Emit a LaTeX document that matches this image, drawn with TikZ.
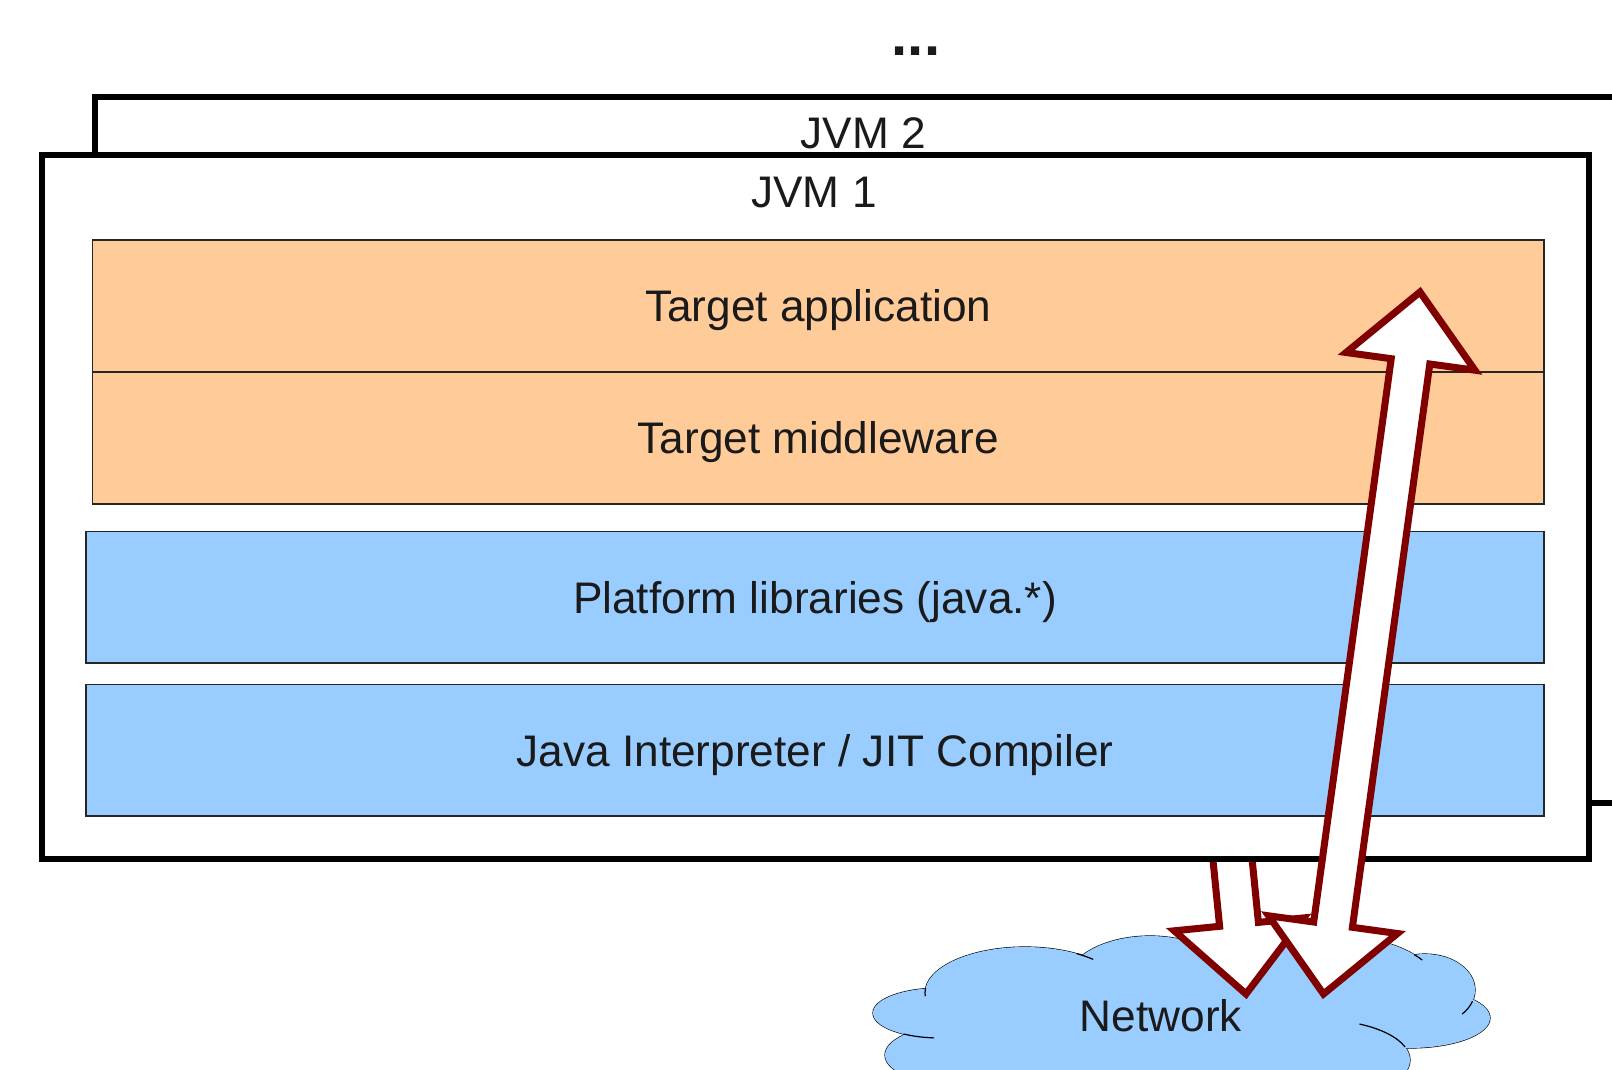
\documentclass[tikz,border=0pt]{standalone}
\usepackage{fontspec}
\setmainfont{Liberation Sans}
\definecolor{orangefill}{HTML}{FFCC99}
\definecolor{bluefill}{HTML}{99CCFF}
\definecolor{arrowred}{HTML}{800000}
\definecolor{textgray}{HTML}{1A1A1A}
\begin{document}
\begin{tikzpicture}[x=0.5pt,y=-0.5pt,
  jvmbox/.style={draw=black, line width=3.2pt, fill=white, inner sep=0pt},
  layer/.style={draw=black!85, line width=0.6pt, inner sep=0pt,
    font=\fontsize{22.1pt}{26pt}\selectfont, text=textgray,
    text height=15.8pt, text depth=0pt},
  orangelayer/.style={layer, fill=orangefill, minimum width=725.75pt, minimum height=66pt},
  bluelayer/.style={layer, fill=bluefill, minimum width=729pt, minimum height=65.75pt},
  lbl/.style={inner sep=0pt, font=\fontsize{22.1pt}{26pt}\selectfont, text=textgray,
    text height=15.8pt, text depth=0pt},
  blockarrow/.style={draw=arrowred, line width=3.5pt, fill=white, line join=miter},
  cloudline/.style={draw=black, line width=0.6pt}
]
\useasboundingbox (0,0) rectangle (1612,1070);
\clip (0,0) rectangle (1612,1070);
\fill[white] (0,0) rectangle (1612,1070);

% dots
\node[inner sep=0pt, anchor=base, font=\fontsize{29pt}{30pt}\selectfont\bfseries, text=textgray] (dots) at (916,56) {...};

% JVM 2 (behind)
\node[jvmbox, minimum width=802.5pt, minimum height=353pt] (jvm2) at (897.5,450) {};
\node[lbl] (jvm2lbl) at (863.5,133) {JVM 2};

% cloud
\foreach \cx/\cy/\rx/\ry in {940/1013/67/25, 1025/993/100/46, 1150/985/85/49, 1330/990/110/55, 1425/990/50/36, 1410/1018/80/30, 1320/1060/90/40, 970/1055/85/32, 1170/1050/200/60}
  {\draw[cloudline] (\cx,\cy) ellipse [x radius=\rx, y radius=\ry];}
\foreach \cx/\cy/\rx/\ry in {940/1013/67/25, 1025/993/100/46, 1150/985/85/49, 1330/990/110/55, 1425/990/50/36, 1410/1018/80/30, 1320/1060/90/40, 970/1055/85/32, 1170/1050/200/60}
  {\fill[bluefill] (\cx,\cy) ellipse [x radius=\rx, y radius=\ry];}
% inner stubs of the cloud outline
\foreach \cx/\cy/\rx/\ry/\sa/\ea in {940/1013/67/25/123/95, 1025/993/100/46/186/176, 1025/993/100/46/-59/-47, 1330/990/110/55/-40/-33, 1425/990/50/36/18/42, 1320/1060/90/40/-19/-64}
  {\draw[cloudline] (\cx,\cy) ++({\rx*cos(\sa)},{\ry*sin(\sa)}) arc [start angle=\sa, end angle=\ea, x radius=\rx, y radius=\ry];}
\node[lbl] (net) at (1161,1016) {Network};

% arrow from JVM 2 to network (behind JVM 1)
\coordinate (a2s1) at (1197.2,702.4);
\coordinate (a2s2) at (1236,698.6);
\coordinate (a2n2) at (1258.4,922.4);
\coordinate (a2b2) at (1303.7,917.9);
\coordinate (a2tip) at (1246,994);
\coordinate (a2b1) at (1174.3,930.8);
\coordinate (a2n1) at (1219.6,926.3);
\draw[blockarrow] (a2s1) -- (a2s2) -- (a2n2) -- (a2b2) -- (a2tip) -- (a2b1) -- (a2n1) -- cycle;

% JVM 1
\node[jvmbox, minimum width=773.5pt, minimum height=352pt] (jvm1) at (815.5,507) {};
\node[lbl] (jvm1lbl) at (814,191.5) {JVM 1};

% layers
\node[orangelayer] (app) at (818.25,306) {Target application};
\node[orangelayer] (mid) at (818.25,438) {Target middleware};
\node[bluelayer] (lib) at (815,597.25) {Platform libraries (java.*)};
\node[bluelayer] (jit) at (815,750.25) {Java Interpreter / JIT Compiler};

% double arrow between application and network
\coordinate (a1top) at (1420,292);
\coordinate (a1tbr) at (1474.9,370.2);
\coordinate (a1tsr) at (1429.8,364.0);
\coordinate (a1bsr) at (1352.4,927.3);
\coordinate (a1bbr) at (1397.4,933.5);
\coordinate (a1bot) at (1323.5,994);
\coordinate (a1bbl) at (1268.6,915.8);
\coordinate (a1bsl) at (1313.7,922.0);
\coordinate (a1tsl) at (1391.2,358.7);
\coordinate (a1tbl) at (1346.1,352.5);
\draw[blockarrow] (a1top) -- (a1tbr) -- (a1tsr) -- (a1bsr) -- (a1bbr) -- (a1bot) -- (a1bbl) -- (a1bsl) -- (a1tsl) -- (a1tbl) -- cycle;
\end{tikzpicture}
\end{document}
